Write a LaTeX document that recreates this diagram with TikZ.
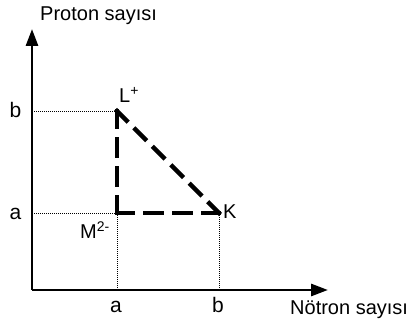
\documentclass[tikz,border=0pt]{standalone}
\usepackage{fontspec}
\setmainfont{Liberation Sans}
\usetikzlibrary{arrows.meta}
\begin{document}
\begin{tikzpicture}[x=1pt,y=1pt,
  axis/.style={line width=2.8pt,-{Triangle[length=17pt,width=12pt]}},
  guide/.style={line width=0.8pt,dash pattern=on 0.8pt off 1.2pt},
  side/.style={line width=4.5pt,line cap=rect,dash pattern=on 16.1pt off 12.5pt},
  hyp/.style={line width=4.5pt,line cap=rect,dash pattern=on 13.6pt off 12.5pt},
  lab/.style={inner sep=0pt,font=\fontsize{20}{24}\selectfont},
  big/.style={inner sep=0pt,font=\fontsize{21}{25}\selectfont}]
\useasboundingbox (0,0) rectangle (412,329);
\coordinate (O) at (32,39);
\coordinate (ytip) at (32,300);
\coordinate (xtip) at (328,39);
\coordinate (L) at (117,218);
\coordinate (M) at (117,116);
\coordinate (K) at (219,116);
\coordinate (yb) at (32,218);
\coordinate (ya) at (32,116);
\coordinate (xa) at (117,39);
\coordinate (xb) at (219,39);
% guides
\draw[guide] (yb) -- (L);
\draw[guide] (ya) -- (M);
\draw[guide] (M) -- (xa);
\draw[guide] (K) -- (xb);
% axes
\draw[axis] (O) -- (ytip);
\draw[axis] (O) -- (xtip);
% triangle
\draw[side] (L) -- (M);
\draw[side] (M) -- (K);
\draw[hyp] (L) -- (K);
% labels
\node[lab,anchor=base west] (py) at (40,308) {Proton sayısı};
\node[lab,anchor=base west] (nx) at (290,14) {Nötron sayısı};
\node[big,anchor=base] (lb) at (15.5,211) {b};
\node[big,anchor=base] (la) at (15.5,109) {a};
\node[big,anchor=base] (ba) at (116,16) {a};
\node[big,anchor=base] (bb) at (218,16) {b};
\node[lab,anchor=base west] (nL) at (119,226) {L\textsuperscript{+}};
\node[lab,anchor=base west] (nM) at (80,90) {M\textsuperscript{2-}};
\node[lab,anchor=base west] (nK) at (223,110) {K};
\end{tikzpicture}
\end{document}
